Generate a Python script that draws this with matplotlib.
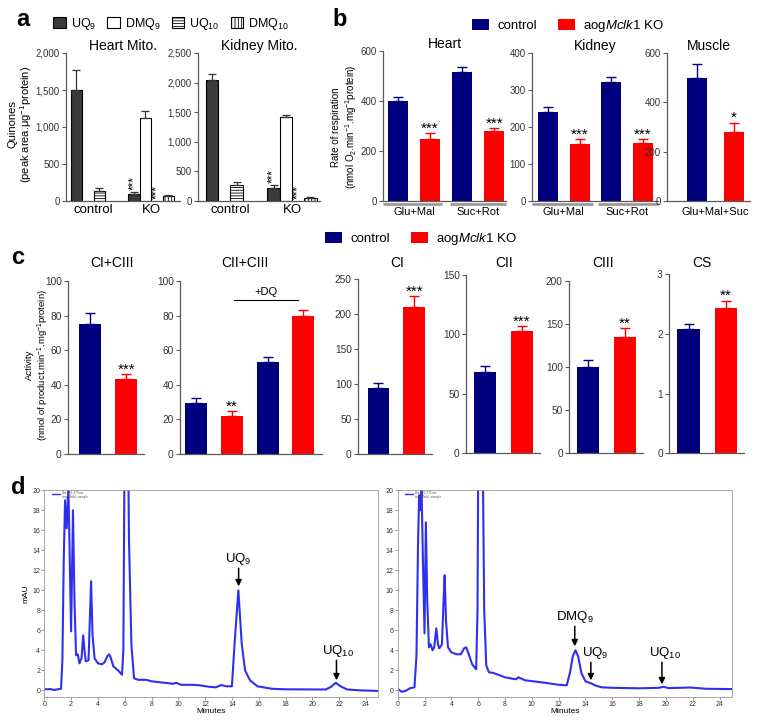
import numpy as np
import matplotlib
matplotlib.use('Agg')
import matplotlib.pyplot as plt
from matplotlib.patches import Patch

plt.rcParams['font.family'] = ['Liberation Sans', 'DejaVu Sans']
plt.rcParams['mathtext.fontset'] = 'custom'
plt.rcParams['mathtext.rm'] = 'Liberation Sans'
plt.rcParams['mathtext.it'] = 'Liberation Sans:italic'
plt.rcParams['mathtext.bf'] = 'Liberation Sans:bold'
plt.rcParams['hatch.linewidth'] = 0.6

# ---- panel a: quinones (UQ9, DMQ9, UQ10, DMQ10) ----
quinones = ['UQ$_9$', 'DMQ$_9$', 'UQ$_{10}$', 'DMQ$_{10}$']
groups_a = ['control', 'KO']
heart_q_ctrl = [1500, 0, 130, 0]
heart_q_ctrl_err = [270, 0, 50, 0]
heart_q_ko = [90, 1120, 0, 70]
heart_q_ko_err = [25, 90, 0, 10]
heart_q_sig = ['***', '', '***', '']
kidney_q_ctrl = [2050, 0, 265, 0]
kidney_q_ctrl_err = [90, 0, 55, 0]
kidney_q_ko = [215, 1420, 0, 55]
kidney_q_ko_err = [55, 40, 0, 10]
kidney_q_sig = ['***', '', '***', '']

# ---- panel b: respiration ----
genotypes = ['control', 'aog$\\it{Mclk1}$ KO']
substrates = ['Glu+Mal', 'Suc+Rot']
heart_resp_ctrl = [400, 516]
heart_resp_ctrl_err = [17, 19]
heart_resp_ko = [250, 281]
heart_resp_ko_err = [21, 10]
heart_resp_sig = ['***', '***']
kidney_resp_ctrl = [239, 321]
kidney_resp_ctrl_err = [15, 13]
kidney_resp_ko = [155, 157]
kidney_resp_ko_err = [11, 11]
kidney_resp_sig = ['***', '***']
muscle_substrates = ['Glu+Mal+Suc']
muscle_resp_ctrl = [496]
muscle_resp_ctrl_err = [58]
muscle_resp_ko = [280]
muscle_resp_ko_err = [37]
muscle_resp_sig = ['*']

# ---- panel c: enzyme activities ----
cicIII_ctrl, cicIII_ctrl_err, cicIII_ko, cicIII_ko_err, cicIII_sig = [75], [6.5], [43.5], [2.5], ['***']
ciicIII_ctrl, ciicIII_ctrl_err = [29.5, 53], [3, 3]
ciicIII_ko, ciicIII_ko_err, ciicIII_sig = [22, 80], [3, 3], ['**', '']
ci_ctrl, ci_ctrl_err, ci_ko, ci_ko_err, ci_sig = [95], [7], [211], [15], ['***']
cii_ctrl, cii_ctrl_err, cii_ko, cii_ko_err, cii_sig = [68.5], [5], [102.5], [4.5], ['***']
ciii_ctrl, ciii_ctrl_err, ciii_ko, ciii_ko_err, ciii_sig = [100], [8], [135], [10], ['**']
cs_ctrl, cs_ctrl_err, cs_ko, cs_ko_err, cs_sig = [2.08], [0.08], [2.43], [0.13], ['**']

# ---- panel d: HPLC traces (minutes, mAU) ----
trace_control = [(0, 0.1), (0.5, 0.12), (0.7, 0.03), (1.0, 0.1), (1.25, 0.15), (1.35, 3), (1.45, 13),
                 (1.55, 19.0), (1.67, 16.2), (1.8, 20.3), (1.9, 13), (2.0, 5.9), (2.07, 12), (2.14, 18.0),
                 (2.25, 9), (2.37, 3.5), (2.5, 3.6), (2.62, 2.7), (2.78, 3.2), (2.9, 5.5), (3.0, 4.0),
                 (3.09, 2.9), (3.3, 3.0), (3.42, 8), (3.49, 10.9), (3.6, 5.5), (3.75, 3.2), (4.0, 2.7),
                 (4.3, 2.6), (4.5, 2.8), (4.7, 3.4), (4.83, 3.6), (4.95, 3.3), (5.15, 2.4), (5.5, 2.0),
                 (5.8, 1.55), (5.9, 4), (5.97, 20), (6.05, 25), (6.25, 25), (6.32, 15), (6.5, 4.5),
                 (6.7, 1.2), (7.0, 1.05), (7.6, 1.05), (8.0, 0.9), (9.0, 0.75), (9.6, 0.65), (9.85, 0.75),
                 (10.2, 0.55), (11.0, 0.55), (11.6, 0.5), (12.3, 0.35), (12.8, 0.3), (13.2, 0.52),
                 (13.6, 0.4), (14.0, 0.4), (14.2, 4.7), (14.48, 10.0), (14.73, 4.7), (14.98, 2.0),
                 (15.35, 1.0), (15.9, 0.4), (17.0, 0.15), (18.0, 0.1), (21.0, 0.08), (21.4, 0.35),
                 (21.75, 0.75), (22.1, 0.4), (22.6, 0.08), (23.5, 0.0), (25.0, -0.07)]
trace_ko = [(0, 0.15), (0.3, -0.15), (0.6, -0.05), (0.9, 0.2), (1.25, 0.3), (1.4, 3.5), (1.52, 15),
            (1.6, 19.5), (1.68, 18.0), (1.78, 20.2), (1.88, 13), (2.0, 5.7), (2.1, 16.8), (2.2, 9),
            (2.33, 4.3), (2.45, 4.6), (2.6, 4.0), (2.72, 4.3), (2.88, 6.2), (3.0, 4.6), (3.1, 4.2),
            (3.3, 4.6), (3.42, 9), (3.5, 11.5), (3.6, 7), (3.75, 4.3), (4.0, 3.8), (4.4, 3.6),
            (4.7, 3.6), (4.95, 4.2), (5.1, 4.3), (5.3, 3.6), (5.55, 2.6), (5.85, 2.1), (5.95, 8),
            (6.0, 22), (6.35, 22), (6.45, 8), (6.6, 2.5), (6.8, 1.8), (7.1, 1.75), (8.0, 1.3),
            (8.8, 1.1), (9.0, 1.3), (9.5, 1.0), (11.0, 0.75), (12.0, 0.55), (12.6, 0.5), (12.85, 1.8),
            (13.05, 3.4), (13.25, 4.0), (13.45, 3.4), (13.7, 1.7), (14.0, 0.9), (14.4, 0.7),
            (14.8, 0.45), (15.2, 0.3), (16.0, 0.25), (18.0, 0.2), (19.5, 0.25), (19.8, 0.35),
            (20.2, 0.22), (21.8, 0.28), (23.0, 0.15), (25.0, 0.12)]

W, H = 764, 723
fig = plt.figure(figsize=(W / 100, H / 100), dpi=100)

NAVY = '#00007f'
RED = '#ff0000'
AX = '#5a5a5a'


def px_axes(left, top, right, bottom):
    return fig.add_axes([left / W, 1 - bottom / H, (right - left) / W, (bottom - top) / H])


def style(ax, ymax, yticks, labels=None, fs=7):
    for s in ['top', 'right']:
        ax.spines[s].set_visible(False)
    for s in ['left', 'bottom']:
        ax.spines[s].set_color(AX)
        ax.spines[s].set_linewidth(0.9)
    ax.set_ylim(0, ymax)
    ax.set_yticks(yticks)
    if labels is not None:
        ax.set_yticklabels(labels)
    ax.tick_params(axis='y', length=3, width=0.8, color=AX, labelsize=fs, labelcolor='#333333', pad=1.5)
    ax.tick_params(axis='x', length=0)


# ---------------- a ----------------
faces = ['#3a3a3a', 'white', 'white', 'white']
hatches = [None, None, '------', '|||||']


def quinone_panel(ax, ctrl, ctrl_err, ko, ko_err, ko_sig, ymax):
    for off, means, errs in [(0, ctrl, ctrl_err), (5, ko, ko_err)]:
        for i in range(4):
            if means[i] > 0:
                ax.bar(off + i, means[i], width=1, facecolor=faces[i], edgecolor='k',
                       hatch=hatches[i], linewidth=0.8)
                ax.errorbar(off + i, means[i], yerr=[[0], [errs[i]]], fmt='none', ecolor='#333333',
                            elinewidth=0.9, capsize=3, capthick=0.9)
    for i, s in enumerate(ko_sig):
        if s:
            ax.text(5 + i, ko[i] + ko_err[i] + ymax * 0.015, s, rotation=90, ha='center', va='bottom',
                    fontsize=8.5)
    ax.set_xticks([1.5, 6.5])
    ax.set_xticklabels(groups_a, fontsize=9.5)
    ax.tick_params(axis='x', pad=2)


ax = px_axes(66, 53, 180, 201)
quinone_panel(ax, heart_q_ctrl, heart_q_ctrl_err, heart_q_ko, heart_q_ko_err, heart_q_sig, 2000)
style(ax, 2000, [0, 500, 1000, 1500, 2000], ['0', '500', '1,000', '1,500', '2,000'])
ax.set_xlim(-0.91, 9.0)
ax.set_title('Heart Mito.', fontsize=10, pad=1)

ax = px_axes(198, 53, 320, 201)
quinone_panel(ax, kidney_q_ctrl, kidney_q_ctrl_err, kidney_q_ko, kidney_q_ko_err, kidney_q_sig, 2500)
style(ax, 2500, [0, 500, 1000, 1500, 2000, 2500], ['0', '500', '1,000', '1,500', '2,000', '2,500'])
ax.set_xlim(-1.14, 8.78)
ax.set_title('Kidney Mito.', fontsize=10, pad=1)

fig.text(21 / W, 1 - 124 / H, 'Quinones\n(peak area.μg$^{-1}$protein)', rotation=90, ha='center',
         va='center', fontsize=8, linespacing=1.1)

handles_a = [Patch(facecolor=faces[i], edgecolor='k', hatch=hatches[i], linewidth=0.8) for i in range(4)]
fig.legend(handles_a, quinones, loc='center', bbox_to_anchor=(171 / W, 1 - 24 / H), ncol=4, frameon=False,
           fontsize=9, handlelength=1.0, handleheight=1.0, handletextpad=0.4, columnspacing=0.9)


# ---------------- b / c helper ----------------
def pair_panel(ax, ctrl, ctrl_err, ko, ko_err, sig, width, star_fs=11):
    n = len(ctrl)
    xc = np.arange(n) * 2
    xk = xc + 1
    ax.bar(xc, ctrl, width, color=NAVY)
    ax.bar(xk, ko, width, color=RED)
    ax.errorbar(xc, ctrl, yerr=[np.zeros(n), ctrl_err], fmt='none', ecolor=NAVY, elinewidth=1,
                capsize=3.5, capthick=1)
    ax.errorbar(xk, ko, yerr=[np.zeros(n), ko_err], fmt='none', ecolor=RED, elinewidth=1,
                capsize=3.5, capthick=1)
    for i, s in enumerate(sig):
        if s:
            ax.annotate(s, xy=(xk[i], ko[i] + ko_err[i]), xytext=(0, 0.3), textcoords='offset points',
                        ha='center', va='baseline', fontsize=star_fs)


def underline(ax, x0, x1):
    ax.plot([x0, x1], [-0.018, -0.018], transform=ax.get_xaxis_transform(), clip_on=False,
            color='#9a9a9a', lw=2, solid_capstyle='butt')


# ---------------- b ----------------
ax = px_axes(383, 51, 506, 201)
pair_panel(ax, heart_resp_ctrl, heart_resp_ctrl_err, heart_resp_ko, heart_resp_ko_err, heart_resp_sig, 0.62)
style(ax, 600, [0, 200, 400, 600])
ax.set_xlim(-0.47, 3.37)
underline(ax, -0.47, 1.375)
underline(ax, 1.625, 3.37)
ax.set_xticks([0.5, 2.5])
ax.set_xticklabels(substrates, fontsize=8)
ax.tick_params(axis='x', pad=4)
ax.set_title('Heart', fontsize=10, pad=1)

ax = px_axes(532, 52.7, 658, 201)
pair_panel(ax, kidney_resp_ctrl, kidney_resp_ctrl_err, kidney_resp_ko, kidney_resp_ko_err, kidney_resp_sig, 0.63)
style(ax, 400, [0, 100, 200, 300, 400])
ax.set_xlim(-0.5, 3.47)
underline(ax, -0.5, 1.42)
underline(ax, 1.58, 3.47)
ax.set_xticks([0.5, 2.5])
ax.set_xticklabels(substrates, fontsize=8)
ax.tick_params(axis='x', pad=4)
ax.set_title('Kidney', fontsize=10, pad=1)

ax = px_axes(667, 52.7, 750, 201)
pair_panel(ax, muscle_resp_ctrl, muscle_resp_ctrl_err, muscle_resp_ko, muscle_resp_ko_err, muscle_resp_sig, 0.54)
style(ax, 600, [0, 200, 400, 600])
ax.set_xlim(-0.81, 1.43)
ax.set_xticks([0.5])
ax.set_xticklabels(muscle_substrates, fontsize=8)
ax.tick_params(axis='x', pad=4)
ax.set_title('Muscle', fontsize=10, pad=1)

fig.text(345 / W, 1 - 127 / H, 'Rate of respiration\n(nmol O$_2$.min$^{-1}$.mg$^{-1}$protein)', rotation=90,
         ha='center', va='center', fontsize=7, linespacing=1.15)

handles_g = [Patch(facecolor=NAVY), Patch(facecolor=RED)]
fig.legend(handles_g, genotypes, loc='center', bbox_to_anchor=(568 / W, 1 - 26 / H), ncol=2, frameon=False,
           fontsize=9.5, handlelength=1.3, handleheight=0.9, handletextpad=0.6, columnspacing=1.6)

# ---------------- c ----------------
c_specs = [
    ('CI+CIII', (68, 281, 144, 454), 112, cicIII_ctrl, cicIII_ctrl_err, cicIII_ko, cicIII_ko_err, cicIII_sig,
     100, [0, 20, 40, 60, 80, 100], (-0.625, 1.49)),
    ('CII+CIII', (180, 281, 322, 454), 245, ciicIII_ctrl, ciicIII_ctrl_err, ciicIII_ko, ciicIII_ko_err,
     ciicIII_sig, 100, [0, 20, 40, 60, 80, 100], (-0.45, 3.52)),
    ('CI', (358, 279.3, 432, 454.3), 397, ci_ctrl, ci_ctrl_err, ci_ko, ci_ko_err, ci_sig,
     250, [0, 50, 100, 150, 200, 250], (-0.57, 1.49)),
    ('CII', (466, 275, 540, 453.3), 504, cii_ctrl, cii_ctrl_err, cii_ko, cii_ko_err, cii_sig,
     150, [0, 50, 100, 150], (-0.53, 1.5)),
    ('CIII', (569, 281, 643, 453.3), 603, ciii_ctrl, ciii_ctrl_err, ciii_ko, ciii_ko_err, ciii_sig,
     200, [0, 50, 100, 150, 200], (-0.53, 1.5)),
    ('CS', (669, 274.3, 744, 453.3), 702, cs_ctrl, cs_ctrl_err, cs_ko, cs_ko_err, cs_sig,
     3, [0, 1, 2, 3], (-0.52, 1.48)),
]
for title, box, tx, c_m, c_e, k_m, k_e, sig, ymax, yt, xl in c_specs:
    ax = px_axes(*box)
    pair_panel(ax, c_m, c_e, k_m, k_e, sig, 0.61)
    style(ax, ymax, yt, fs=7.3)
    ax.set_xlim(*xl)
    ax.set_xticks([])
    fig.text(tx / W, 1 - 263 / H, title, ha='center', va='center', fontsize=10)
    if title == 'CII+CIII':
        ax.plot([1.06, 2.84], [89, 89], color='k', lw=0.8)
        ax.text(1.95, 91, '+DQ', ha='center', va='bottom', fontsize=8)

fig.text(38 / W, 1 - 365 / H, 'Activity\n(nmol of product.min$^{-1}$.mg$^{-1}$protein)', rotation=90,
         ha='center', va='center', fontsize=6.8, linespacing=1.15)
fig.legend(handles_g, genotypes, loc='center', bbox_to_anchor=(421 / W, 1 - 239 / H), ncol=2, frameon=False,
           fontsize=9.5, handlelength=1.3, handleheight=0.9, handletextpad=0.6, columnspacing=1.6)


# ---------------- d ----------------
def chrom(ax, trace, ylab):
    t = [p[0] for p in trace]
    y = [p[1] for p in trace]
    ax.plot(t, y, color='#2f2ff2', lw=1.5)
    ax.set_xlim(0, 24.9)
    ax.set_ylim(-0.64, 20)
    ax.set_xticks(range(0, 25, 2))
    ax.set_yticks(range(0, 21, 2))
    ax.tick_params(labelsize=5, length=2, width=0.5, color='#777777', labelcolor='#333333', pad=1)
    for s in ax.spines.values():
        s.set_color('#9a9a9a')
        s.set_linewidth(0.6)
    ax.set_xlabel('Minutes', fontsize=6, labelpad=0)
    if ylab:
        ax.set_ylabel('mAU', fontsize=6, labelpad=2)
    ax.plot([0.022, 0.047], [0.982, 0.982], transform=ax.transAxes, color='#2f2ff2', lw=1)
    ax.text(0.052, 0.995, 'Det.166-275nm\naog Mclk1 sample', transform=ax.transAxes, fontsize=2.3,
            va='top', ha='left', color='#555555', linespacing=1.0)


def peak_label(ax, x, y_from, y_to, label, tx=None):
    ax.annotate('', xy=(x, y_to), xytext=(x, y_from),
                arrowprops=dict(arrowstyle='-|>', color='k', lw=1.1, mutation_scale=9, shrinkA=0, shrinkB=0))
    ax.text(x if tx is None else tx, y_from + 0.1, label, ha='center', va='bottom', fontsize=9.5)


ax = px_axes(44.3, 490.3, 378, 696.7)
chrom(ax, trace_control, True)
peak_label(ax, 14.5, 12.2, 10.4, 'UQ$_9$')
peak_label(ax, 21.8, 3.0, 1.0, 'UQ$_{10}$', 21.9)

ax = px_axes(397.7, 490.3, 731.7, 696.7)
chrom(ax, trace_ko, False)
peak_label(ax, 13.2, 6.4, 4.4, 'DMQ$_9$')
peak_label(ax, 14.4, 2.8, 1.0, 'UQ$_9$', 14.7)
peak_label(ax, 19.7, 2.8, 0.6, 'UQ$_{10}$', 19.9)

# panel letters
for letter, x, y in [('a', 23, 20), ('b', 340, 20), ('c', 18, 257), ('d', 18, 488)]:
    fig.text(x / W, 1 - y / H, letter, fontsize=17, fontweight='bold', ha='center', va='center')

fig.savefig('out.png', dpi=100)
